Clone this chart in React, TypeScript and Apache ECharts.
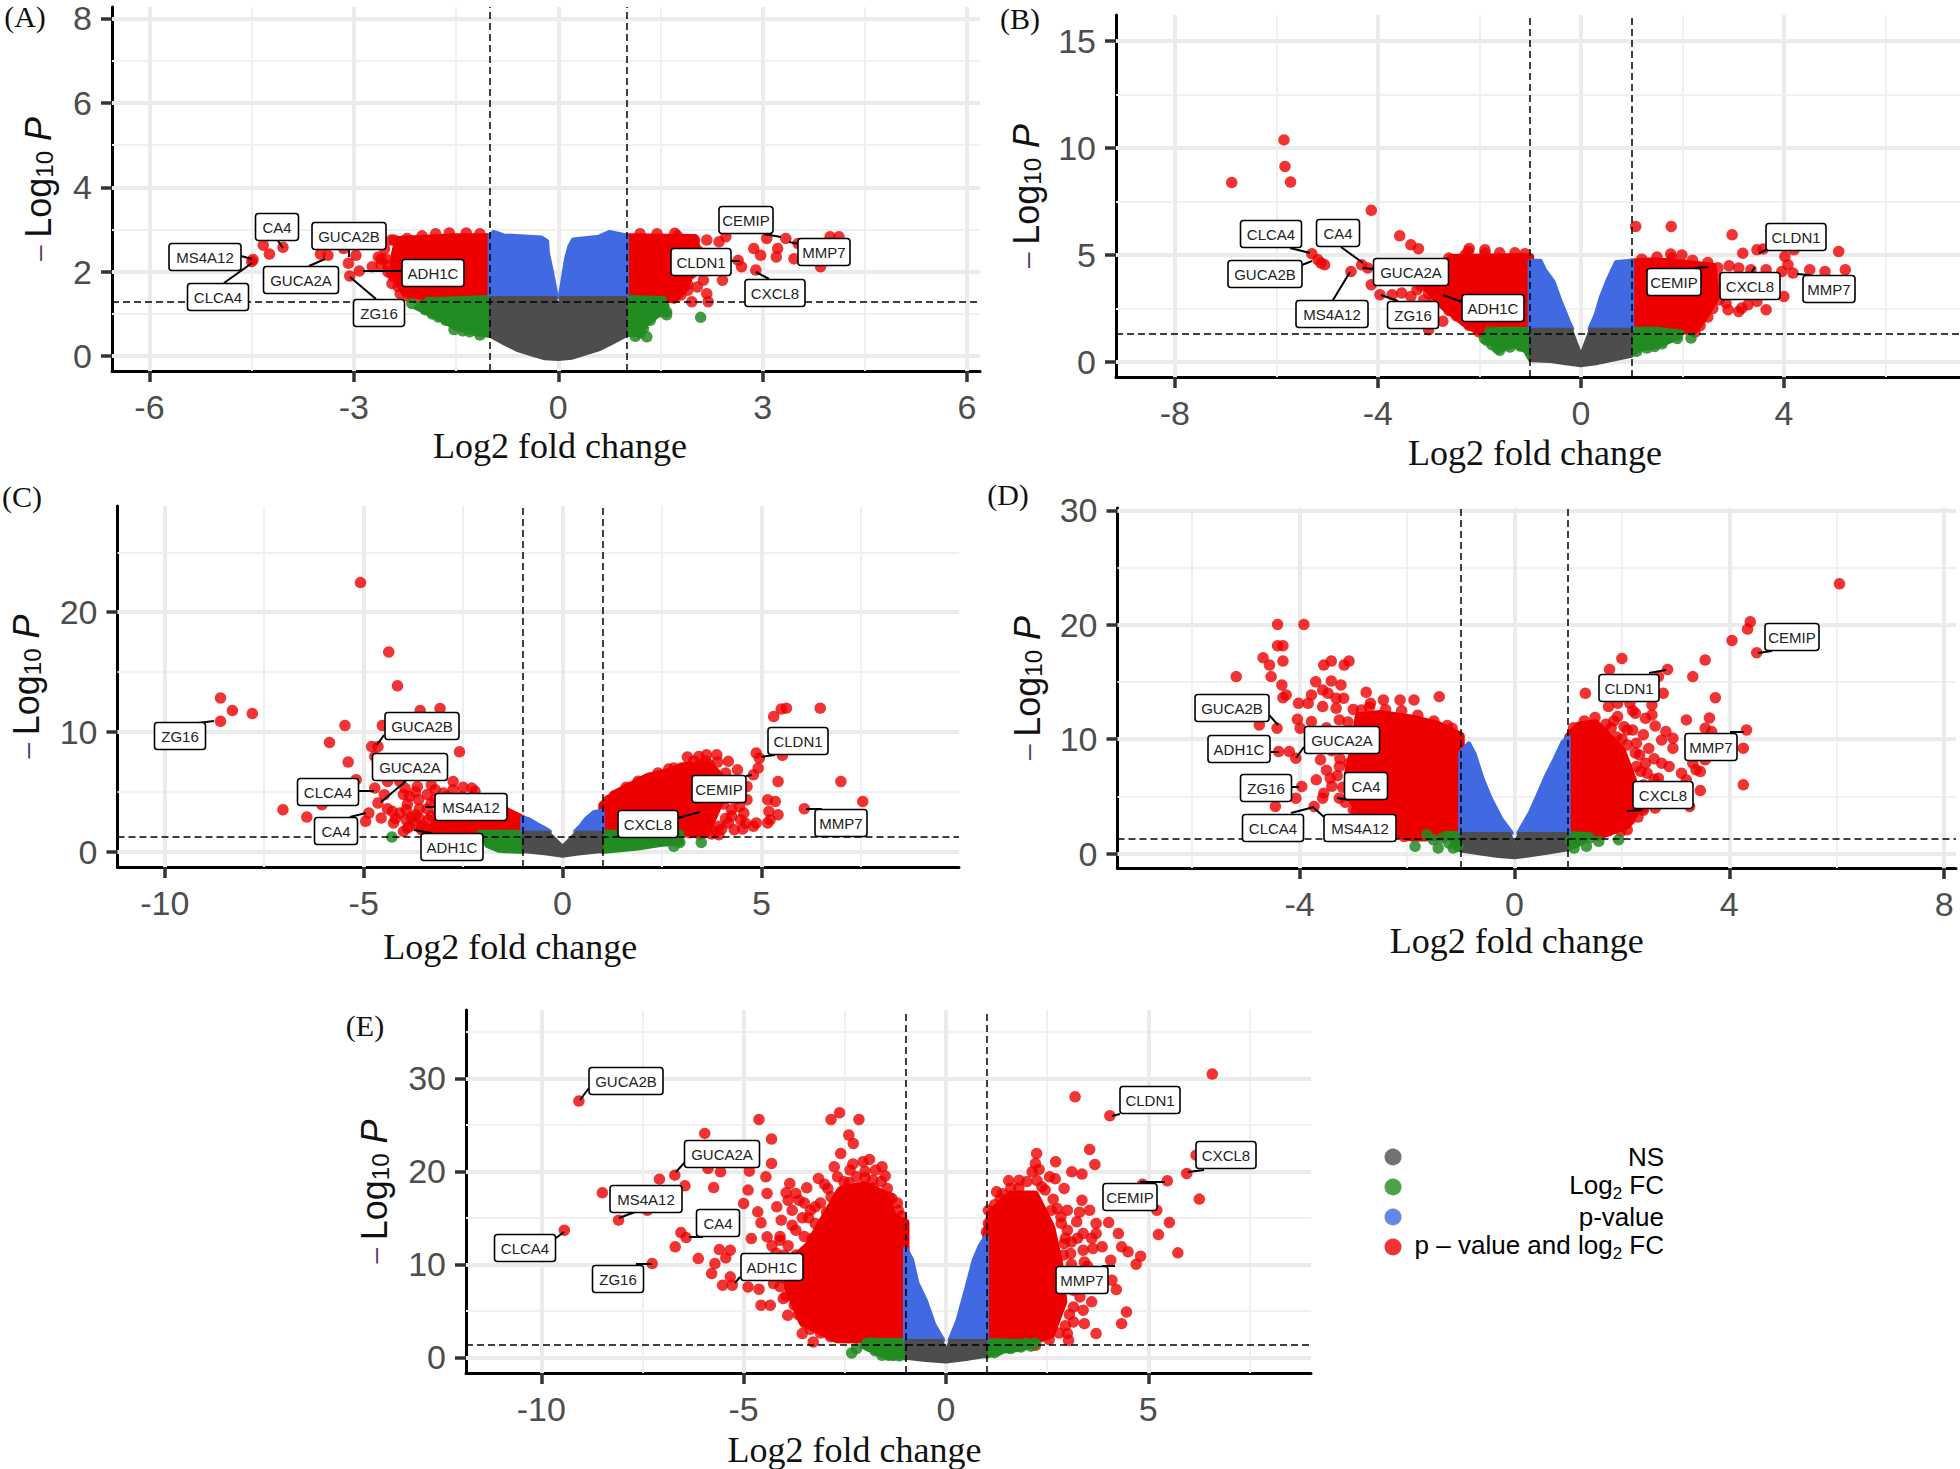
import React, { useEffect, useRef } from "react";
import * as echarts from "echarts";

type P = [number, number];

// ---------- Panel A ----------
const aGrey: P[] = [[-1,1.4],[-0.03,1.4],[0,1.08],[0.03,1.4],[1,1.4],[1,0.47],[0.8,0.3],[0.6,0.14],[0.4,0.04],[0.2,-0.06],[0,-0.09],[-0.2,-0.07],[-0.4,0.02],[-0.6,0.12],[-0.8,0.28],[-1,0.46]];
const aBlueL: P[] = [[-1,1.4],[-1,2.85],[-0.95,2.93],[-0.8,2.85],[-0.25,2.8],[-0.17,2.72],[-0.16,2.45],[-0.1,2.0],[-0.04,1.5],[-0.03,1.4]];
const aBlueR: P[] = [[0.03,1.4],[0.08,1.9],[0.12,2.3],[0.17,2.6],[0.22,2.75],[0.6,2.82],[0.75,2.93],[1,2.85],[1,1.4]];
const aRedL: P[] = [[-1,2.82],[-1.5,2.82],[-2.35,2.75],[-2.4,2.4],[-2.42,2.0],[-2.25,1.5],[-1.9,1.4],[-1,1.4]];
const aRedR: P[] = [[1,2.82],[2.0,2.8],[2.05,2.4],[1.95,2.0],[1.85,1.6],[1.7,1.35],[1,1.4]];
const aGreenL: P[] = [[-1,1.4],[-1.9,1.35],[-2.1,1.15],[-1.8,0.92],[-1.5,0.65],[-1.2,0.52],[-1,0.48]];
const aGreenR: P[] = [[1,1.4],[1.55,1.38],[1.6,1.15],[1.5,1.0],[1.3,0.75],[1.2,0.5],[1,0.5]];
const aRedPts: P[] = [[-4.33,2.63],[-4.24,2.42],[-4.04,2.58],[-4.48,2.29],[-4.5,2.24],[-3.49,2.42],[-3.38,2.39],[-3.15,2.55],[-2.97,2.39],[-3.08,2.2],[-3.06,1.9],[-2.92,2.02],[-2.73,2.12],[-2.64,2.35],[-2.53,2.31],[-2.41,2.75],[-2.22,2.79],[-2.6,2.16],[-2.44,1.72],[-2.32,1.48],[-2.18,1.48],[-2.41,1.88],[-1.39,1.3],[-1.6,2.92],[-1.35,2.92],[-2.5,2.0],[1.96,1.29],[2.2,1.29],[2.18,1.48],[2.04,1.64],[1.85,1.88],[2.13,1.8],[1.95,2.12],[2.18,2.75],[2.36,2.71],[2.46,2.83],[2.69,2.12],[2.64,2.27],[2.87,2.55],[2.97,2.39],[3.06,2.79],[3.22,2.55],[3.2,2.35],[3.34,2.79],[3.46,2.31],[3.85,2.12],[3.99,2.83],[4.12,2.83],[3.52,2.67],[2.9,2.04],[2.22,2.2],[1.9,2.75],[1.71,2.91],[2.41,1.8],[1.9,1.56],[2.09,2.35],[1.81,2.43],[1.85,2.7],[1.8,2.2]];
const aRedEdge: P[] = [[-2.45,2.75],[-2.55,2.55],[-2.6,2.3],[-2.5,2.15],[-2.35,1.65],[-2.45,1.95],[-2.2,1.42],[-2.05,1.36],[-1.85,1.34],[-1.6,1.32],[-1.15,2.9],[-1.8,2.9],[-2.0,2.85],[1.2,2.9],[1.45,2.9],[1.75,2.85],[2.0,2.75],[2.05,2.5],[2.0,2.25],[1.95,1.95],[1.9,1.7],[1.8,1.45],[1.7,1.38]];
const aGreenPts: P[] = [[-2.15,1.25],[-1.76,0.93],[-1.53,0.63],[-1.3,0.58],[-1.95,1.1],[1.59,1.05],[1.59,0.98],[2.09,0.92],[1.3,0.46],[1.13,0.47],[1.25,0.66],[-2.0,1.2],[-1.85,1.0],[-1.65,0.85],[-1.7,1.1],[-1.5,0.75],[-1.4,0.6],[-1.15,0.5],[-1.9,1.28],[1.35,0.85],[1.5,1.05],[1.2,0.55],[1.38,1.25],[1.55,1.2],[1.2,1.0]];
const aXTicks = [-6, -3, 0, 3, 6];
const aYTicks = [0, 2, 4, 6, 8];
const aXMinor = [-4.5, -1.5, 1.5, 4.5];
const aYMinor = [1, 3, 5, 7];

// ---------- Panel B ----------
const bGrey: P[] = [[-1,1.55],[-0.18,1.55],[0,0.42],[0.18,1.55],[1,1.55],[1,0.25],[0.6,0.05],[0.3,-0.1],[0,-0.2],[-0.3,-0.1],[-0.6,0],[-1,0.03]];
const bBlueL: P[] = [[-1,1.55],[-1,4.7],[-0.8,4.7],[-0.72,4.3],[-0.55,3.75],[-0.42,2.9],[-0.25,1.9],[-0.18,1.55]];
const bBlueR: P[] = [[0.18,1.55],[0.3,2.2],[0.4,3.0],[0.55,3.9],[0.7,4.65],[1,4.7],[1,1.55]];
const bRedL: P[] = [[-1,4.9],[-2.55,4.85],[-2.9,4.0],[-3.05,3.5],[-2.7,2.6],[-2.25,1.75],[-1.95,1.35],[-1.7,1.5],[-1,1.55]];
const bRedR: P[] = [[1,4.65],[1.45,4.7],[2.0,4.6],[2.6,4.45],[2.65,3.0],[2.4,2.0],[2.2,1.4],[2.0,1.5],[1,1.55]];
const bGreenL: P[] = [[-1,1.55],[-1.7,1.55],[-1.9,1.25],[-1.8,0.9],[-1.6,0.55],[-1.3,0.75],[-1.1,0.5],[-1,0.1]];
const bGreenR: P[] = [[1,1.55],[1.5,1.55],[2.0,1.4],[1.8,1.0],[1.5,0.7],[1.2,0.6],[1,0.3]];
const bRedPts: P[] = [[-6.88,8.38],[-5.85,10.37],[-5.83,9.13],[-5.72,8.4],[-4.13,7.08],[-3.57,5.89],[-3.35,5.47],[-3.2,5.29],[-2.22,5.16],[-2.2,5.3],[-1.89,5.24],[-1.89,5.08],[-2.28,5.0],[-5.3,5.05],[-5.18,4.77],[-5.05,4.54],[-5.12,4.62],[-4.32,4.54],[-4.2,4.39],[-4.53,4.23],[-4.13,3.61],[-3.96,3.14],[-3.72,3.14],[-3.35,3.06],[-2.72,1.9],[-3.0,1.51],[-2.56,2.52],[-3.23,3.37],[-3.53,3.22],[-3.1,2.9],[1.08,6.33],[1.78,6.33],[2.98,5.94],[1.77,5.04],[1.99,5.0],[3.19,5.08],[3.47,5.24],[3.59,5.27],[4.2,5.24],[5.08,5.16],[5.21,4.31],[4.51,4.31],[4.81,4.23],[4.02,4.93],[4.08,4.54],[4.18,4.15],[2.92,4.49],[3.11,4.39],[3.35,4.31],[3.65,4.31],[3.96,4.23],[4,3.06],[3.65,2.44],[3.11,2.36],[2.9,2.44],[3.29,2.67],[3.47,2.83],[2.74,3.37],[2.86,2.75],[3.17,2.52]];
const bRedEdge: P[] = [[-2.6,4.85],[-2.75,4.5],[-2.9,4.2],[-3.05,3.8],[-3.15,3.55],[-3.0,3.2],[-2.9,2.9],[-2.6,2.4],[-2.45,2.15],[-2.2,1.7],[-2.0,1.4],[-2.3,2.2],[-1.6,5.1],[-1.3,5.1],[-1.1,5.05],[1.2,4.8],[1.5,4.9],[1.8,4.85],[2.2,4.75],[2.5,4.65],[2.7,4.4],[2.75,3.9],[2.75,3.4],[2.72,2.9],[2.6,2.5],[2.5,2.1],[2.35,1.7],[2.25,1.4]];
const bGreenPts: P[] = [[2.17,1.12],[-1.6,0.55],[-1.9,1.1],[1.9,1.1],[1.45,0.72],[-1.8,1.4],[-1.85,1.0],[-1.65,0.65],[-1.4,0.7],[-1.2,0.75],[-1.75,0.8],[1.7,1.2],[1.9,1.25],[1.6,0.85],[1.3,0.65],[1.1,0.5]];
const bXTicks = [-8, -4, 0, 4];
const bYTicks = [0, 5, 10, 15];
const bXMinor = [-6, -2, 2, 6];
const bYMinor = [2.5, 7.5, 12.5];

// ---------- Panel C ----------
const cGrey: P[] = [[-1,1.7],[-0.35,1.7],[0,0.55],[0.35,1.7],[1,1.7],[1,0],[0.4,-0.2],[0,-0.4],[-0.4,-0.2],[-1,0]];
const cBlueL: P[] = [[-1,1.7],[-1,2.85],[-0.85,2.7],[-0.65,2.3],[-0.45,1.95],[-0.33,1.7]];
const cBlueR: P[] = [[0.33,1.7],[0.45,2.1],[0.6,2.75],[0.8,3.3],[1,3.4],[1,1.7]];
const cRedL: P[] = [[-1,1.7],[-1,2.75],[-1.4,3.4],[-1.8,3.9],[-2.0,3.3],[-2.7,3.0],[-3.2,2.5],[-3.3,1.7],[-2,1.7]];
const cRedR: P[] = [[1,1.7],[1,3.9],[1.35,4.9],[2.1,6.2],[2.7,6.7],[3.1,7.2],[3.7,7.2],[4.0,6.2],[4.0,4.5],[3.8,3],[3.6,1.5],[3.0,1.7]];
const cGreenL: P[] = [[-1,1.7],[-2.1,1.7],[-2.0,1.1],[-1.9,0.5],[-1.6,0.1],[-1,0]];
const cGreenR: P[] = [[1,1.7],[3.0,1.7],[3.0,0.7],[2.5,0.6],[1.9,0.3],[1,0]];
const cRedPts: P[] = [[-8.6,12.85],[-8.3,11.8],[-7.8,11.55],[-8.6,10.9],[-7.03,3.53],[-6.43,2.92],[-5.86,9.14],[-5.47,10.56],[-5.39,7.5],[-5.08,22.47],[-4.37,16.69],[-4.15,13.86],[-3.58,11.8],[-3.08,11.97],[-4.53,10.56],[-4.8,8.8],[-4.64,8.8],[-2.59,8.36],[-4.72,7.97],[-5.19,6.03],[-4.72,5.33],[-6.05,3.94],[-4.87,3.25],[-4.56,2.83],[-4.95,2.56],[-4.28,3.39],[-3.93,3.53],[-3.85,4.64],[-3.96,5.33],[-3.65,5.47],[-3.3,5.6],[-2.75,5.89],[-2.75,5.2],[-2.28,5.33],[-2.2,5.06],[-2.99,4.92],[-3.62,4.36],[-3.3,4.08],[-4.0,1.72],[-4.25,2.42],[-3.93,2.69],[-3.69,3.11],[-3.38,2.69],[-2.91,4.64],[-2.52,4.64],[-4.64,4.08],[-4.48,4.78],[-4.4,5.89],[-4.09,5.89],[-3.85,2.14],[-3.14,3.25],[-2.67,3.67],[-2.04,4.08],[-1.73,3.67],[-3.54,1.86],[-4.09,3.25],[3.14,7.92],[3.43,7.97],[3.62,8.11],[3.88,8.11],[3.49,7.28],[3.69,7.28],[4.17,7.56],[4.4,6.86],[2.67,6.92],[2.99,7.0],[3.11,6.58],[2.2,6.17],[4.87,8.25],[4.95,7.83],[5.53,8.06],[4.92,7.0],[4.8,6.44],[5.31,11.3],[5.5,11.92],[5.63,12.0],[6.48,12.0],[7,5.89],[7.55,4.22],[6.08,3.61],[5.42,5.89],[5.16,4.36],[5.35,4.22],[5.19,3.39],[5.42,3.11],[5.22,2.69],[5.16,2.42],[4.8,2.14],[4.48,2.69],[4.56,3.25],[4.32,1.86],[3.93,1.44],[4.64,4.36],[4.64,5.47],[4.25,3.53],[3.93,2.14],[4.17,2.42],[1.1,3.94],[4.87,2.42],[4.53,1.92],[4.3,4.6],[4.3,5.6]];
const cRedEdge: P[] = [[-3.9,2.0],[-3.7,2.4],[-3.5,2.2],[-3.3,3.0],[-3.1,3.8],[-2.9,3.3],[-3.6,2.8],[-3.4,3.6],[-3.2,4.4],[-3.0,4.0],[-2.8,4.4],[-2.6,4.0],[-2.4,3.7],[-2.2,3.9],[-2.0,3.6],[-1.8,3.3],[-3.6,3.6],[-3.9,4.0],[-4.2,2.8],[-4.4,3.6],[-4.0,4.8],[-3.7,5.0],[-3.4,4.8],[-3.2,5.2],[-2.5,5.4],[-3.8,2.9],[-3.55,2.0],[-3.3,1.9],[-1.5,3.5],[4.1,6.6],[4.2,6.0],[4.3,5.3],[4.1,5.0],[4.35,4.4],[4.05,4.0],[4.25,3.0],[4.1,2.8],[4.0,1.9],[3.85,1.7],[3.75,1.5],[3.45,1.45],[3.2,1.6],[4.45,3.8],[4.6,2.4],[3.3,7.6],[3.6,7.6],[3.9,7.5],[2.4,6.6],[2.8,7.0],[1.9,5.9],[1.6,5.4],[1.3,4.7],[1.15,4.3]];
const cGreenPts: P[] = [[-4.29,1.25],[2.8,0.47],[3.49,0.8],[2.95,0.8]];
const cXTicks = [-10, -5, 0, 5];
const cYTicks = [0, 10, 20];
const cXMinor = [-7.5, -2.5, 2.5, 7.5];
const cYMinor = [5, 15, 25];

// ---------- Panel D ----------
const dGrey: P[] = [[-1,1.8],[-0.08,1.8],[0,0.9],[0.08,1.8],[1,1.8],[1,0.3],[0.6,0],[0.2,-0.3],[0,-0.4],[-0.3,-0.3],[-0.6,-0.1],[-1,0.2]];
const dBlueL: P[] = [[-1,1.8],[-1,8.8],[-0.85,9.6],[-0.75,8.7],[-0.6,6.5],[-0.45,4.8],[-0.25,3.0],[-0.06,1.8]];
const dBlueR: P[] = [[0.08,1.8],[0.3,3.6],[0.45,5.2],[0.6,6.8],[0.75,8.2],[0.9,9.7],[1,10.2],[1,1.8]];
const dRedL: P[] = [[-1,10.3],[-1.4,11.2],[-1.9,11.8],[-2.5,12.2],[-2.9,12.0],[-3.0,9.0],[-3.1,7.0],[-3.0,4.5],[-2.75,3.0],[-2.2,1.7],[-1.9,1.4],[-1,1.5]];
const dRedR: P[] = [[1,10.2],[1.2,11.2],[1.5,11.4],[1.7,10.5],[2.0,9],[2.2,6.5],[2.3,4],[2.1,2.5],[1.6,1.6],[1,1.6]];
const dGreenL: P[] = [[-1,1.8],[-1.3,1.8],[-1.1,0.7],[-1,0.3]];
const dGreenR: P[] = [[1,1.8],[1.4,1.7],[1.3,1.0],[1.1,0.6],[1,0.4]];
const dRedPts: P[] = [[-4.41,20.03],[-3.92,20.03],[-4.41,18.17],[-4.31,18.17],[-4.68,17.12],[-4.56,16.48],[-4.31,16.83],[-5.18,15.47],[-4.53,15.47],[-4.33,14.74],[-4.25,13.87],[-4.31,13.63],[-3.55,16.48],[-3.41,16.83],[-3.17,16.48],[-3.08,16.83],[-3.7,15.03],[-3.41,15.09],[-3.23,14.74],[-3.57,14.3],[-3.47,14.01],[-3.78,13.87],[-4.02,13.14],[-3.84,13.14],[-3.18,13.58],[-3.32,13.58],[-3.32,12.7],[-3.57,12.85],[-2.76,14.1],[-2.44,13.43],[-2.13,13.43],[-1.87,13.43],[-1.4,13.72],[-2.68,13.14],[-2.85,12.56],[-4.04,11.74],[-3.78,11.54],[-4.42,10.96],[-4.75,11.25],[-4.39,8.92],[-4.19,8.92],[-4.07,8.34],[-3.99,10.96],[-3.26,11.69],[-3.61,8.2],[-3.26,7.62],[-3.69,6.45],[-3.43,6.6],[-3.55,5.29],[-3.57,4.85],[-3.96,5.87],[-4.07,4.85],[-4.45,4.13],[-3.73,4.13],[-3.26,4.85],[-3,3.84],[-3.08,7.9],[-1.16,10.96],[-1.05,9.65],[-3.3,10.4],[-3.4,9.0],[-3.2,9.6],[-3.5,11],[6.05,23.58],[4.39,20.26],[4.34,19.62],[4.05,18.63],[4.51,17.56],[3.55,16.92],[3.32,15.47],[2,17.06],[1.77,16.1],[2.85,16.1],[2.68,15.47],[2.77,14.01],[1.32,14.01],[3.74,13.63],[1.75,12.85],[1.92,13.14],[2.15,13.14],[2.56,12.99],[2.25,12.27],[2.56,12.12],[2.44,11.83],[3.2,11.69],[3.63,11.86],[2.62,11.16],[2.82,10.67],[2.74,9.94],[2.95,10.09],[3.55,10.96],[3.67,10.67],[4.32,10.81],[4.26,9.22],[2.95,9.22],[2.74,7.91],[2.88,7.62],[2.44,7.91],[2.47,7.03],[3.11,7.03],[3.38,7.33],[3.46,7.18],[3.32,7.91],[3.55,8.2],[2.68,6.6],[3.2,6.45],[3.46,5.52],[4.26,6.02],[2.62,3.98],[3.26,4.13],[2.39,3.98],[2.27,9.65],[2.04,11.1],[1.92,11.98],[2.33,8.63],[2.27,7.62],[2.15,2.97],[1.98,1.95],[2.1,2.09],[1.86,2.38],[1.8,11],[2.0,10],[2.2,10.8]];
const dRedEdge: P[] = [[-3.0,12.6],[-2.7,12.8],[-2.4,12.6],[-2.1,12.5],[-1.8,12.1],[-1.5,11.6],[-1.25,11.2],[-3.1,11.5],[-3.2,10.5],[-3.15,9.4],[-3.25,8.3],[-3.3,6.8],[-3.2,5.8],[-3.15,4.5],[-2.95,3.7],[-2.7,2.8],[-2.5,2.3],[-2.3,1.9],[-2.05,1.5],[-3.45,10.1],[-3.6,9.2],[-3.5,7.3],[-3.4,5.9],[1.1,11],[1.3,11.6],[1.5,11.9],[1.7,11.3],[1.9,10.2],[2.1,9.5],[2.25,8.8],[2.35,7.2],[2.4,6],[2.45,5],[2.4,3.8],[2.3,3.2],[1.75,2],[1.55,1.6],[1.85,11.6],[2.1,10.8],[2.4,10.4],[2.5,9.2],[2.6,8.3],[2.2,12.5],[2.6,6.5],[2.55,5.5],[2.5,4.5]];
const dGreenPts: P[] = [[-1.85,0.64],[-1.42,0.49],[-1.14,0.49],[-1.51,1.22],[-1.34,1.37],[-1.11,1.37],[-1.05,0.64],[-1.22,0.93],[1.16,1.37],[1.05,1.08],[1.4,1.37],[1.11,0.49],[1.34,0.64],[1.57,1.08],[1.94,1.22],[-1.63,1.66]];
const dXTicks = [-4, 0, 4, 8];
const dYTicks = [0, 10, 20, 30];
const dXMinor = [-6, -2, 2, 6];
const dYMinor = [5, 15, 25];

// ---------- Panel E ----------
const eGrey: P[] = [[-1,1.85],[-0.1,1.85],[0,0.9],[0.1,1.85],[1,1.85],[1,0.05],[0.5,-0.3],[0,-0.55],[-0.5,-0.4],[-1,-0.15]];
const eBlueL: P[] = [[-1,1.85],[-1,11.7],[-0.85,10.5],[-0.72,8],[-0.5,6],[-0.3,3.5],[-0.08,1.85]];
const eBlueR: P[] = [[0.1,1.85],[0.3,4],[0.55,8],[0.7,10.5],[0.85,12],[1,13],[1,1.85]];
const eRedL: P[] = [[-1,14.5],[-1.3,15],[-1.5,17.5],[-2,18.5],[-2.6,18],[-3,15],[-3.4,12],[-3.9,10],[-3.9,7.5],[-3.55,3.8],[-2.7,1.95],[-1,1.85]];
const eRedR: P[] = [[1,13],[1.1,15.5],[1.6,17.5],[2.2,17.5],[2.6,14],[2.8,10],[2.9,6],[2.6,2.5],[2.3,1.95],[1,1.85]];
const eGreenL: P[] = [[-1,1.85],[-2,1.85],[-2.1,1.2],[-1.7,0.4],[-1.4,-0.1],[-1.1,0],[-1,-0.15]];
const eGreenR: P[] = [[1,1.85],[2.3,1.7],[2.2,1.2],[1.8,0.8],[1.4,0.6],[1,0.05]];
const eRedPts: P[] = [[-9.07,27.56],[-9.43,13.67],[-8.09,14.75],[-8.49,17.69],[-7.38,15.82],[-7.26,10.08],[-7.08,19.16],[-6.7,19.59],[-6.45,18.44],[-6.69,11.88],[-6.55,13.42],[-6.42,12.88],[-5.96,24.08],[-5.88,20.31],[-5.57,19.95],[-5.74,18.26],[-6.12,10.62],[-5.6,11.59],[-5.33,11.52],[-5.44,10.69],[-5.71,10.08],[-5.79,9.0],[-5.52,7.75],[-5.28,7.75],[-5.33,8.65],[-4.62,25.58],[-4.31,23.47],[-4.31,20.85],[-4.86,20.02],[-4.45,19.41],[-4.89,17.98],[-4.42,17.62],[-5,16.54],[-4.65,15.64],[-4.81,12.77],[-4.57,14.46],[-4.07,14.75],[-4.18,16.18],[-3.86,18.69],[-3.71,17.62],[-3.44,18.23],[-4.42,12.95],[-4.1,12.59],[-4.89,7.57],[-4.62,7.32],[-4.57,5.6],[-4.34,5.6],[-3.91,4.52],[-4.02,6.32],[-4.26,7.93],[-3.55,2.55],[-3.28,1.65],[-3.47,3.62],[-2.63,26.3],[-2.84,25.58],[-2.15,25.58],[-2.4,23.9],[-2.29,23],[-2.6,21.92],[-2.05,21.03],[-1.89,21.28],[-1.58,20.49],[-1.74,20.13],[-2.76,20.49],[-3.15,19.23],[-2.37,20.13],[-2.92,18.16],[-2.52,18.87],[-2.05,18.33],[-1.45,18.16],[-1.34,17.08],[-1.18,15.82],[-3.23,16.18],[-2.84,17.26],[-3.63,16.9],[-3.23,14.39],[-3.71,13.67],[-1.81,19.05],[-2.68,19.41],[-2.21,19.41],[-4.0,11],[-4.2,9.6],[-4.3,8.8],[-4.1,10.2],[-3.8,15.8],[-3.4,15],[6.58,30.46],[3.19,28.02],[4.05,25.98],[3.55,22.35],[2.24,21.92],[2.21,20.85],[2.71,21.03],[3.68,20.74],[3.11,19.95],[3.36,19.7],[2.13,19.95],[1.81,19.05],[2.56,19.41],[2.92,18.16],[2.37,18.33],[6.18,21.74],[5.95,19.77],[5.47,18.98],[6.26,17.01],[4.86,18.62],[5.52,14.5],[5.25,13.2],[5.21,15.82],[5.73,11.23],[4.81,10.87],[4.7,10.01],[4.5,11.34],[4.34,11.88],[4.26,13.31],[4.02,14.5],[3.36,16.9],[3,15.82],[3.3,15.6],[3.55,15.82],[3.71,14.39],[3.23,14.57],[3.39,13.31],[3.71,13.31],[3.08,11.16],[3.39,11.52],[3.63,11.7],[3.86,11.88],[4.07,10.44],[3.42,10.26],[4.21,7.28],[4.1,8.29],[3.6,5.96],[3.39,5.06],[4.46,4.88],[4.34,3.62],[3.71,2.55],[3.42,3.62],[3.15,3.8],[3,2.55],[3.03,1.83],[3.31,6.49],[1.34,17.08],[1.74,16.54],[2.84,15.1],[3,13.67],[1,13.49],[2.92,12.24],[2.21,1.29]];
const eRedEdge: P[] = [[-4.0,8.5],[-4.2,11.2],[-3.9,12],[-3.7,11],[-3.5,13],[-3.3,12.8],[-3.8,14.2],[-3.55,15],[-3.35,15.8],[-3.1,16.6],[-2.95,15.6],[-2.75,16.5],[-2.6,17.6],[-2.4,18.8],[-2.2,18.2],[-2.0,19.3],[-1.8,18.2],[-1.6,18.9],[-1.4,17.2],[-1.2,16.6],[-1.1,15.2],[-3.1,13.6],[-3.3,10.6],[-4.05,9.6],[-4.1,7.6],[-3.95,6.6],[-3.75,5.6],[-3.65,4.6],[-3.5,4.6],[-3.35,3.0],[-3.1,2.6],[-2.85,2.2],[-2.6,17],[-3.0,18.6],[-3.5,16.6],[-3.9,16.9],[-4.1,13],[-4.3,12],[-3.95,17.7],[-2.3,20.8],[-2.0,20],[-1.5,19.5],[1.05,14.4],[1.05,15.8],[1.2,16.4],[1.4,17.6],[1.6,18.2],[1.8,18.2],[2.0,18.9],[2.25,19],[2.45,18],[2.65,17],[2.75,16],[2.85,14.4],[2.95,12.8],[3.1,12.4],[3.1,10],[3.0,8.5],[3.15,7.2],[3.15,5.4],[3.05,4.6],[2.95,3.4],[2.8,2.6],[2.55,1.9],[2.7,19.2],[2.3,20.2],[3.25,12.8],[3.3,9],[2.9,11],[2.6,15.8],[1.55,19],[1.25,17.8],[3.5,9.8],[3.6,12.8],[3.35,7.9]];
const eGreenPts: P[] = [[-2.33,0.47],[-2.21,0.93],[-1.58,0.22],[-1.42,0.22],[1.98,1.5],[-1.9,1.2],[-1.75,0.7],[-1.85,1.55],[-1.3,0.2],[-1.15,0.15],[1.3,0.75],[1.6,0.95],[1.85,1.1],[2.1,1.2],[2.2,1.5],[1.2,0.5]];
const eXTicks = [-10, -5, 0, 5];
const eYTicks = [0, 10, 20, 30];
const eXMinor = [-7.5, -2.5, 2.5, 7.5];
const eYMinor = [5, 15, 25, 35];

// ---------- Labels ----------
const legendNames = ["NS", "{t|Log}{s|2}{t| FC}", "p-value", "{t|p \u2013 value and log}{s|2}{t| FC}"];
const legendColors = ["#4d4d4d", "#228B22", "#4169E1", "#EE0000"];
const xTitle = "Log2 fold change";
const yTitle = "{m|\u2013 }{l|Log}{s|10}{p| P}";

const GREY = "#4d4d4d";
const GREEN = "#228B22";
const BLUE = "#4169E1";
const RED = "#EE0000";
const AXIS_FONT = "Liberation Sans";
const STROKE: Record<string, number> = { [RED]: 8, [GREEN]: 4, [BLUE]: 5, [GREY]: 2 };

// Pixel geometry of each panel and of its annotations (layout only).
const panels = [
  { letter: "(A)", lx: 25, ly: 16, left: 112, top: 7, right: 980, bottom: 371, x: [-6.55, 6.19], y: [-0.35, 8.27], xGap: 57, yGap: 56, xShift: 14,
    xTicks: aXTicks, yTicks: aYTicks, xMinor: aXMinor, yMinor: aYMinor,
    polys: [[aRedL, RED], [aRedR, RED], [aGreenL, GREEN], [aGreenR, GREEN], [aBlueL, BLUE], [aBlueR, BLUE], [aGrey, GREY]], red: [...aRedPts, ...aRedEdge], green: aGreenPts,
    labels: [["CA4",277,227,278,241,283,248],["GUCA2B",349,236,349,249,349,257],["MS4A12",205,257,241,256,252,259],["CLCA4",218,297,224,283,252,263],["GUCA2A",301,280,309,266,325,259],["ADH1C",433,273,363,271,401,271],["ZG16",379,313,350,277,376,299],["CEMIP",746,220,764,234,781,237],["MMP7",824,252,789,242,799,244],["CLDN1",701,262,731,261,740,261],["CXCL8",775,293,756,272,769,279]] },
  { letter: "(B)", lx: 1020, ly: 18, left: 1116, top: 15, right: 1960, bottom: 377, x: [-9.16, 7.47], y: [-0.7, 16.2], xGap: 58, yGap: 72, xShift: -3,
    xTicks: bXTicks, yTicks: bYTicks, xMinor: bXMinor, yMinor: bYMinor,
    polys: [[bRedL, RED], [bRedR, RED], [bGreenL, GREEN], [bGreenR, GREEN], [bBlueL, BLUE], [bBlueR, BLUE], [bGrey, GREY]], red: [...bRedPts, ...bRedEdge], green: bGreenPts,
    labels: [["CLCA4",1271,234,1290,248,1310,253],["CA4",1338,233,1341,247,1363,263],["GUCA2B",1265,274,1302,265,1312,261],["GUCA2A",1411,272,1363,268,1373,269],["MS4A12",1332,314,1333,300,1350,272],["ZG16",1413,315,1381,295,1398,301],["ADH1C",1493,308,1443,295,1462,302],["CEMIP",1674,282,1695,268,1708,267],["CXCL8",1750,286,1751,273,1755,267],["CLDN1",1796,237,1766,250,1759,253],["MMP7",1829,289,1797,274,1810,275]] },
  { letter: "(C)", lx: 22, ly: 496, left: 117.5, top: 506, right: 959, bottom: 867, x: [-11.19, 9.97], y: [-1.25, 28.86], xGap: 62, yGap: 73, xShift: -28,
    xTicks: cXTicks, yTicks: cYTicks, xMinor: cXMinor, yMinor: cYMinor,
    polys: [[cRedL, RED], [cRedR, RED], [cGreenL, GREEN], [cGreenR, GREEN], [cBlueL, BLUE], [cBlueR, BLUE], [cGrey, GREY]], red: [...cRedPts, ...cRedEdge], green: cGreenPts,
    labels: [["ZG16",180,736,198,723,214,721],["GUCA2B",422,726,384,735,377,745],["GUCA2A",410,767,406,781,381,802],["CLCA4",328,792,358,791,374,791],["CA4",336,831,350,817,366,813],["MS4A12",471,807,425,807,435,807],["ADH1C",452,847,414,830,431,833],["CLDN1",798,741,761,757,775,755],["CEMIP",719,789,746,776,752,775],["CXCL8",648,824,678,818,700,812],["MMP7",841,823,806,809,822,809]] },
  { letter: "(D)", lx: 1008, ly: 494, left: 1117.5, top: 508, right: 1956, bottom: 868, x: [-7.39, 8.22], y: [-1.25, 30.2], xGap: 55, yGap: 72, xShift: -20,
    xTicks: dXTicks, yTicks: dYTicks, xMinor: dXMinor, yMinor: dYMinor,
    polys: [[dRedL, RED], [dRedR, RED], [dGreenL, GREEN], [dGreenR, GREEN], [dBlueL, BLUE], [dBlueR, BLUE], [dGrey, GREY]], red: [...dRedPts, ...dRedEdge], green: dGreenPts,
    labels: [["CEMIP",1792,637,1758,653,1772,651],["CLDN1",1629,688,1649,673,1666,670],["MMP7",1711,747,1730,732,1744,732],["CXCL8",1663,795,1627,811,1642,810],["GUCA2B",1232,708,1269,715,1278,725],["ADH1C",1239,749,1271,752,1279,752],["GUCA2A",1342,740,1304,747,1296,758],["ZG16",1266,788,1291,787,1299,787],["CA4",1366,786,1337,798,1349,800],["CLCA4",1273,828,1291,813,1314,807],["MS4A12",1360,828,1314,808,1324,817]] },
  { letter: "(E)", lx: 365, ly: 1025, left: 466, top: 1010, right: 1311, bottom: 1373, x: [-11.86, 9.02], y: [-1.69, 37.35], xGap: 59, yGap: 74, xShift: -34,
    xTicks: eXTicks, yTicks: eYTicks, xMinor: eXMinor, yMinor: eYMinor,
    polys: [[eRedL, RED], [eRedR, RED], [eGreenL, GREEN], [eGreenR, GREEN], [eBlueL, BLUE], [eBlueR, BLUE], [eGrey, GREY]], red: [...eRedPts, ...eRedEdge], green: eGreenPts,
    labels: [["GUCA2B",626,1081,589,1088,580,1100],["GUCA2A",722,1154,685,1162,676,1172],["MS4A12",646,1199,635,1212,619,1218],["CA4",718,1223,689,1237,703,1237],["CLCA4",525,1248,556,1238,564,1232],["ZG16",618,1279,636,1264,652,1264],["ADH1C",772,1267,740,1277,735,1283],["CLDN1",1150,1100,1120,1114,1112,1116],["CXCL8",1226,1155,1204,1170,1188,1172],["CEMIP",1130,1197,1140,1182,1165,1182],["MMP7",1082,1280,1102,1266,1115,1266]] },
] as any[];

const boxWidths: Record<string, number> = { MS4A12: 72, GUCA2A: 75, GUCA2B: 74, CLCA4: 61, CLDN1: 60, CXCL8: 60, ADH1C: 62, CEMIP: 54, MMP7: 52, ZG16: 51, CA4: 43 };

function buildOption() {
  const grid: any[] = [], xAxis: any[] = [], yAxis: any[] = [], series: any[] = [], graphic: any[] = [];
  panels.forEach((p, i) => {
    grid.push({ left: p.left, top: p.top, width: p.right - p.left, height: p.bottom - p.top });
    const axisCommon = {
      type: "value", gridIndex: i, splitLine: { show: false }, minorSplitLine: { show: false },
      axisLine: { show: true, onZero: false, lineStyle: { color: "#000", width: 3 } },
      nameLocation: "middle", nameMoveOverlap: false,
    };
    xAxis.push({
      ...axisCommon, position: "bottom", min: p.x[0], max: p.x[1], name: xTitle, nameGap: p.xGap,
      nameTextStyle: {
        fontFamily: "Liberation Serif", fontSize: 36, color: "#111",
        padding: p.xShift > 0 ? [0, 0, 0, 2 * p.xShift] : [0, -2 * p.xShift, 0, 0],
      },
      axisTick: { show: true, length: 11, lineStyle: { color: "#333", width: 3.5 }, customValues: p.xTicks },
      axisLabel: { customValues: p.xTicks, margin: 19, fontFamily: AXIS_FONT, fontSize: 34, color: "#4d4d4d" },
    });
    yAxis.push({
      ...axisCommon, position: "left", min: p.y[0], max: p.y[1], name: yTitle, nameGap: p.yGap, nameRotate: 90,
      nameTextStyle: {
        fontFamily: AXIS_FONT, fontSize: 36, color: "#111",
        rich: {
          m: { fontFamily: AXIS_FONT, fontSize: 28, color: "#5b3a6b", lineHeight: 36, verticalAlign: "middle" },
          l: { fontFamily: AXIS_FONT, fontSize: 36, color: "#111", lineHeight: 36, verticalAlign: "middle" },
          s: { fontFamily: AXIS_FONT, fontSize: 24, color: "#111", lineHeight: 24, verticalAlign: "bottom" },
          p: { fontFamily: AXIS_FONT, fontSize: 36, fontStyle: "italic", color: "#111", lineHeight: 36, verticalAlign: "middle" },
        },
      },
      axisTick: { show: true, length: 11, lineStyle: { color: "#333", width: 3.5 }, customValues: p.yTicks },
      axisLabel: { customValues: p.yTicks, margin: 20, fontFamily: AXIS_FONT, fontSize: 34, color: "#4d4d4d" },
    });
    const base = { xAxisIndex: i, yAxisIndex: i, silent: true };
    const major = { color: "#ebebeb", width: 4, type: "solid" };
    const minor = { color: "#f0f0f0", width: 2, type: "solid" };
    series.push({
      ...base, type: "scatter", data: [], z: 1,
      markLine: {
        silent: true, symbol: "none", label: { show: false }, z: 1, animation: false,
        data: [
          ...p.xMinor.map((v: number) => ({ xAxis: v, lineStyle: minor })),
          ...p.yMinor.map((v: number) => ({ yAxis: v, lineStyle: minor })),
          ...p.xTicks.map((v: number) => ({ xAxis: v, lineStyle: major })),
          ...p.yTicks.map((v: number) => ({ yAxis: v, lineStyle: major })),
        ],
      },
    });
    // red outliers and edge points sit under the blue, green and grey wedges
    series.push({ ...base, type: "scatter", data: p.red, symbolSize: 11.5, z: 2, itemStyle: { color: RED, opacity: 0.8 } });
    p.polys.forEach(([pts, color]: [P[], string], k: number) => {
      series.push({
        ...base, type: "custom", z: 3 + k * 0.01, clip: false, data: [0],
        renderItem: (_: any, api: any) => ({
          type: "polygon",
          shape: { points: pts.map((q) => api.coord(q)) },
          style: { fill: color, stroke: color, lineWidth: STROKE[color], lineJoin: "round" },
        }),
      });
    });
    series.push({ ...base, type: "scatter", data: p.green, symbolSize: 11.5, z: 4, itemStyle: { color: GREEN, opacity: 0.85 } });
    series.push({
      ...base, type: "scatter", data: [], z: 5,
      markLine: {
        silent: true, symbol: "none", label: { show: false }, z: 10, animation: false,
        lineStyle: { color: "#000", width: 1.5, type: [7, 4] },
        data: [{ xAxis: -1 }, { xAxis: 1 }, { yAxis: 1.3 }],
      },
    });

    graphic.push({ type: "text", z: 100, style: { text: p.letter, x: p.lx, y: p.ly, align: "center", verticalAlign: "middle", fontFamily: "Liberation Serif", fontSize: 30, fill: "#111" } });
    p.labels.forEach(([name, cx, cy, x1, y1, x2, y2]: any[]) => {
      const w = boxWidths[name];
      graphic.push({ type: "line", z: 100, shape: { x1, y1, x2, y2 }, style: { stroke: "#000", lineWidth: 2 } });
      graphic.push({ type: "rect", z: 101, shape: { x: cx - w / 2, y: cy - 13.5, width: w, height: 27, r: 3 }, style: { fill: "#fff", stroke: "#000", lineWidth: 1.6 } });
      graphic.push({ type: "text", z: 102, style: { text: name, x: cx, y: cy, align: "center", verticalAlign: "middle", fontFamily: AXIS_FONT, fontSize: 15, fill: "#222" } });
    });
  });
  const legendY = [1157, 1187, 1217, 1247];
  legendNames.forEach((name, k) => {
    graphic.push({ type: "circle", z: 100, shape: { cx: 1393, cy: legendY[k], r: 8.5 }, style: { fill: legendColors[k], opacity: 0.8 } });
    graphic.push({
      type: "text", z: 100,
      style: {
        text: name, x: 1664, y: legendY[k], align: "right", verticalAlign: "middle",
        fontFamily: AXIS_FONT, fontSize: 26, fill: "#000",
        rich: {
          t: { fontFamily: AXIS_FONT, fontSize: 26, fill: "#000", lineHeight: 30, verticalAlign: "top" },
          s: { fontFamily: AXIS_FONT, fontSize: 17, fill: "#000", lineHeight: 17, verticalAlign: "bottom" },
        },
      },
    });
  });
  return { animation: false, backgroundColor: "#fff", grid, xAxis, yAxis, series, graphic };
}

export default function App() {
  const ref = useRef<HTMLDivElement>(null);
  useEffect(() => {
    const chart = echarts.init(ref.current!, undefined, { renderer: "svg" });
    chart.setOption(buildOption() as any);
    return () => chart.dispose();
  }, []);
  return <div ref={ref} style={{ position: "absolute", left: 0, top: 0, width: 1960, height: 1469 }} />;
}
